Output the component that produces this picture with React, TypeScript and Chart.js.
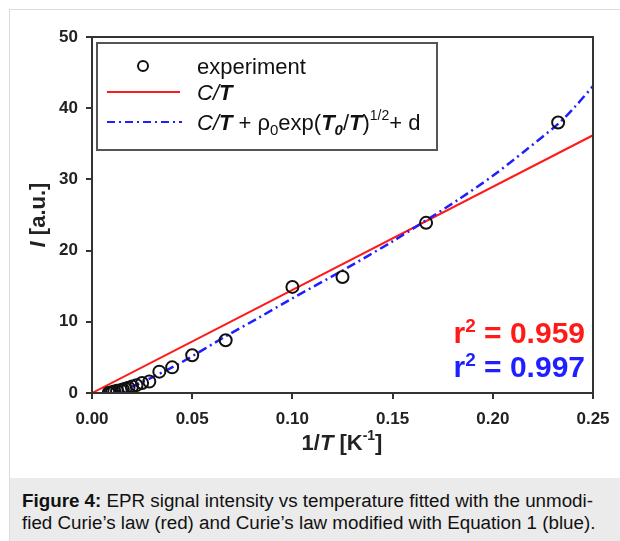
import React, { useEffect, useRef } from "react";
import { Chart, registerables } from "chart.js";
Chart.register(...registerables);

// experiment: 1/T [K^-1] and intensity I [a.u.]
const expX = [0.2326, 0.1667, 0.125, 0.1, 0.0667, 0.05, 0.04, 0.0336, 0.0286, 0.025, 0.0222, 0.02, 0.0182, 0.0167, 0.0154, 0.0143, 0.0125, 0.0111, 0.01, 0.0091, 0.0083];
const expY = [38.0, 23.9, 16.3, 14.9, 7.4, 5.3, 3.6, 3.0, 1.6, 1.4, 1.1, 0.9, 0.75, 0.6, 0.5, 0.4, 0.3, 0.2, 0.1, 0.05, 0.0];
// Curie law fit C/T
const curieX = [0, 0.25];
const curieY = [0, 36.2];
// modified fit
const modX = [0.0105, 0.02, 0.03, 0.044, 0.067, 0.084, 0.1, 0.125, 0.15, 0.167, 0.183, 0.2, 0.216, 0.233, 0.241, 0.25];
const modY = [0.0, 0.9, 2.2, 4.2, 8.0, 10.7, 13.3, 17.2, 21.3, 24.3, 27.2, 30.5, 34.0, 37.9, 40.2, 43.1];
const xTicks = [0, 0.05, 0.1, 0.15, 0.2, 0.25];
const yTicks = [0, 10, 20, 30, 40, 50];
const r2Curie = "0.959";
const r2Mod = "0.997";

const RED = "#ff1a1a";
const BLUE = "#1f1fff";
const AX = "#333333";
const FONT = "Arial, 'Liberation Sans', sans-serif";

type Run = { t: string; f: string; dy?: number };

function runsWidth(ctx: CanvasRenderingContext2D, runs: Run[]) {
  let w = 0;
  for (const r of runs) {
    ctx.font = r.f;
    w += ctx.measureText(r.t).width;
  }
  return w;
}
function drawRuns(ctx: CanvasRenderingContext2D, runs: Run[], x: number, y: number, align: "left" | "center" | "right") {
  const w = runsWidth(ctx, runs);
  let cx = align === "left" ? x : align === "center" ? x - w / 2 : x - w;
  ctx.textAlign = "left";
  ctx.textBaseline = "alphabetic";
  for (const r of runs) {
    ctx.font = r.f;
    ctx.fillText(r.t, cx, y + (r.dy || 0));
    cx += ctx.measureText(r.t).width;
  }
}

const decor = {
  id: "decor",
  afterDatasetsDraw(chart: any) {
    const ctx = chart.ctx as CanvasRenderingContext2D;
    const a = chart.chartArea;
    ctx.save();
    // frame
    ctx.strokeStyle = AX;
    ctx.lineWidth = 2;
    ctx.strokeRect(a.left, a.top, a.right - a.left, a.bottom - a.top);

    // legend box
    const lx = 97, ly = 43, lw = 340, lh = 107;
    ctx.fillStyle = "#ffffff";
    ctx.fillRect(lx, ly, lw, lh);
    ctx.strokeStyle = "#555555";
    ctx.lineWidth = 2;
    ctx.strokeRect(lx, ly, lw, lh);

    // legend: marker
    ctx.beginPath();
    ctx.arc(143, 66, 5, 0, Math.PI * 2);
    ctx.strokeStyle = "#111";
    ctx.lineWidth = 2;
    ctx.stroke();
    // red line
    ctx.beginPath();
    ctx.moveTo(107, 92);
    ctx.lineTo(180, 92);
    ctx.strokeStyle = RED;
    ctx.lineWidth = 2;
    ctx.stroke();
    // blue dash-dot
    ctx.beginPath();
    ctx.setLineDash([8, 4, 2, 4]);
    ctx.moveTo(107, 122);
    ctx.lineTo(182, 122);
    ctx.strokeStyle = BLUE;
    ctx.stroke();
    ctx.setLineDash([]);

    const n = `22px ${FONT}`;
    const it = `italic 22px ${FONT}`;
    const bi = `italic bold 22px ${FONT}`;
    const sub = `15px ${FONT}`;
    const subBi = `italic bold 15px ${FONT}`;
    const sup = `14px ${FONT}`;
    ctx.fillStyle = "#111";
    drawRuns(ctx, [{ t: "experiment", f: n }], 197, 74, "left");
    drawRuns(ctx, [{ t: "C/", f: it }, { t: "T", f: bi }], 197, 100, "left");
    drawRuns(
      ctx,
      [
        { t: "C/", f: it },
        { t: "T", f: bi },
        { t: " + \u03c1", f: n },
        { t: "0", f: sub, dy: 5 },
        { t: "exp(", f: n },
        { t: "T", f: bi },
        { t: "0", f: subBi, dy: 5 },
        { t: "/", f: n },
        { t: "T", f: bi },
        { t: ")", f: n },
        { t: "1/2", f: sup, dy: -10 },
        { t: "+ d", f: n },
      ],
      197,
      130,
      "left"
    );

    // r^2 annotations
    const big = `bold 30px ${FONT}`;
    const bsup = `bold 19px ${FONT}`;
    ctx.fillStyle = RED;
    drawRuns(ctx, [{ t: "r", f: big }, { t: "2", f: bsup, dy: -11 }, { t: " = " + r2Curie, f: big }], 585, 343, "right");
    ctx.fillStyle = BLUE;
    drawRuns(ctx, [{ t: "r", f: big }, { t: "2", f: bsup, dy: -11 }, { t: " = " + r2Mod, f: big }], 585, 377, "right");

    // axis titles
    ctx.fillStyle = "#222";
    const tb = `bold 22px ${FONT}`;
    const tbi = `italic bold 22px ${FONT}`;
    drawRuns(
      ctx,
      [{ t: "1/", f: tb }, { t: "T", f: tbi }, { t: " [K", f: tb }, { t: "-1", f: `bold 14px ${FONT}`, dy: -10 }, { t: "]", f: tb }],
      342,
      450,
      "center"
    );
    ctx.save();
    ctx.translate(37, 215);
    ctx.rotate(-Math.PI / 2);
    drawRuns(ctx, [{ t: "I", f: tbi }, { t: " [a.u.]", f: tb }], 0, 8, "center");
    ctx.restore();
    ctx.restore();
  },
};

export default function App() {
  const ref = useRef<HTMLCanvasElement>(null);
  useEffect(() => {
    if (!ref.current) return;
    const chart = new Chart(ref.current, {
      type: "scatter",
      data: {
        datasets: [
          {
            label: "experiment",
            data: expX.map((x, i) => ({ x, y: expY[i] })),
            pointStyle: "circle",
            pointRadius: 6,
            pointBorderWidth: 2,
            borderColor: "#111",
            backgroundColor: "rgba(0,0,0,0)",
            showLine: false,
            order: 0,
          },
          {
            label: "C/T",
            type: "line",
            data: curieX.map((x, i) => ({ x, y: curieY[i] })),
            borderColor: RED,
            borderWidth: 2,
            pointRadius: 0,
            fill: false,
            order: 2,
          },
          {
            label: "mod",
            type: "line",
            data: modX.map((x, i) => ({ x, y: modY[i] })),
            borderColor: BLUE,
            borderWidth: 2.5,
            borderDash: [9, 4, 2, 4],
            pointRadius: 0,
            tension: 0.3,
            fill: false,
            order: 1,
          },
        ] as any,
      },
      options: {
        animation: false,
        responsive: false,
        devicePixelRatio: 1,
        layout: { padding: { left: 0, right: 27, top: 37, bottom: 0 } },
        plugins: { legend: { display: false }, tooltip: { enabled: false } },
        scales: {
          x: {
            type: "linear",
            min: 0,
            max: 0.25,
            afterBuildTicks: (s: any) => {
              s.ticks = xTicks.map((v) => ({ value: v }));
            },
            afterFit: (s: any) => {
              s.height = 77;
            },
            ticks: {
              color: "#222",
              font: { family: FONT, size: 17, weight: "bold" },
              padding: 10,
              maxRotation: 0,
              callback: (v: any) => Number(v).toFixed(2),
            },
            grid: { drawOnChartArea: false, drawTicks: true, tickLength: 6, color: AX, lineWidth: 2 },
            border: { display: true, color: AX, width: 2 },
          },
          y: {
            type: "linear",
            min: 0,
            max: 50,
            afterBuildTicks: (s: any) => {
              s.ticks = yTicks.map((v) => ({ value: v }));
            },
            afterFit: (s: any) => {
              s.width = 92;
            },
            ticks: {
              color: "#222",
              font: { family: FONT, size: 17, weight: "bold" },
              padding: 8,
              callback: (v: any) => String(v),
            },
            grid: { drawOnChartArea: false, drawTicks: true, tickLength: 6, color: AX, lineWidth: 2 },
            border: { display: true, color: AX, width: 2 },
          },
        },
      } as any,
      plugins: [decor],
    });
    return () => chart.destroy();
  }, []);

  return (
    <div style={{ position: "fixed", left: 0, top: 0, width: 620, height: 541, overflow: "hidden", background: "#fff" }}>
      <div style={{ position: "absolute", left: 9, top: 9, width: 640, height: 560, border: "1px solid #dcdcdc", boxSizing: "border-box" }} />
      <canvas ref={ref} width={620} height={470} style={{ position: "absolute", left: 0, top: 0, width: 620, height: 470 }} />
      <div
        style={{
          position: "absolute",
          left: 10,
          top: 478,
          width: 620,
          height: 70,
          background: "#ebebeb",
          boxSizing: "border-box",
          padding: "12px 0 0 12px",
          fontFamily: FONT,
          fontSize: 18.8,
          lineHeight: "22px",
          color: "#111",
        }}
      >
        <b>Figure 4:</b> EPR signal intensity vs temperature fitted with the unmodi-
        <br />
        fied Curie’s law (red) and Curie’s law modified with Equation 1 (blue).
      </div>
    </div>
  );
}
